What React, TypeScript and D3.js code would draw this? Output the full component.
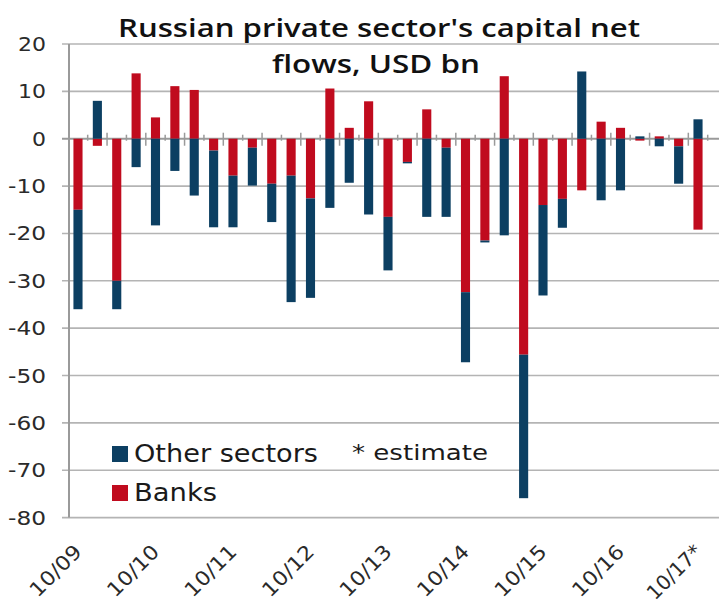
import React from "react";
import * as d3 from "d3";

const categories = [
  "10/09","01/10","04/10","07/10","10/10","01/11","04/11","07/11","10/11",
  "01/12","04/12","07/12","10/12","01/13","04/13","07/13","10/13",
  "01/14","04/14","07/14","10/14","01/15","04/15","07/15","10/15",
  "01/16","04/16","07/16","10/16","01/17","04/17","07/17","10/17*"
];
const banks = [
  -15, -1.5, -30, 13.8, 4.5, 11.1, 10.3, -2.5, -7.8, -1.9, -9.5, -7.8, -12.6,
  10.6, 2.3, 7.9, -16.5, -4.9, 6.2, -1.9, -32.4, -21.5, 13.2, -45.6, -14,
  -12.7, -10.9, 3.6, 2.3, -0.4, 0.5, -1.6, -19.2
];
const otherSectors = [
  -21, 8, -6, -6, -18.3, -6.8, -12, -16.2, -10.9, -8, -8.1, -26.7, -21,
  -14.6, -9.3, -16, -11.3, -0.3, -16.5, -14.6, -14.8, -0.4, -20.4, -30.3, -19.1,
  -6.1, 14.2, -13, -10.9, 0.5, -1.6, -7.9, 4.1
];
const yTicks = [20, 10, 0, -10, -20, -30, -40, -50, -60, -70, -80];
const xTickLabels = ["10/09","10/10","10/11","10/12","10/13","10/14","10/15","10/16","10/17*"];
const seriesKeys = ["banks", "others"];
const seriesNames = { others: "Other sectors", banks: "Banks" };
const colors = { banks: "#c00b1e", others: "#0c3f62" };

export default function App() {
  const W = 719, H = 607;
  const left = 68.3, right = 707.7, plotRight = 719;
  const x = d3.scaleBand<string>().domain(categories).range([left, right]).paddingInner(0.53).paddingOuter(0.265);
  const y = d3.scaleLinear().domain([-80, 20]).range([517.6, 44]);

  const rows = categories.map((c, i) => ({ cat: c, banks: banks[i], others: otherSectors[i] }));
  const stacked = d3.stack<any>().keys(seriesKeys).offset(d3.stackOffsetDiverging)(rows);
  const step = x.step();
  const font = "'DejaVu Sans', sans-serif";

  return (
    <svg width={W} height={H} style={{ position: "absolute", left: 0, top: 0, background: "#fff" }}>
      {/* title */}
      <text x={379} y={37} textAnchor="middle" fontFamily="'Open Sans', sans-serif" fontWeight={600}
        fontSize={25} fill="#111" textLength={522} lengthAdjust="spacingAndGlyphs">
        Russian private sector's capital net
      </text>
      <text x={376} y={73} textAnchor="middle" fontFamily="'Open Sans', sans-serif" fontWeight={600}
        fontSize={25} fill="#111" textLength={208} lengthAdjust="spacingAndGlyphs">
        flows, USD bn
      </text>

      {/* gridlines */}
      {yTicks.map(t => (
        <g key={t}>
          <line x1={62} x2={plotRight} y1={y(t)} y2={y(t)} stroke={t === 0 ? "#9a9a9a" : "#b4b4b4"} strokeWidth={t === 0 ? 2 : 1.6} />
          <text x={46} y={y(t) + 7} textAnchor="end" fontFamily={font} fontSize={20} fill="#2a2a2a"
            textLength={t < 0 ? (Math.abs(t) >= 10 ? 38 : 20) : (t === 0 ? 14 : 28)} lengthAdjust="spacingAndGlyphs">
            {t}
          </text>
        </g>
      ))}
      {/* vertical axis */}
      <line x1={left + 0.7} x2={left + 0.7} y1={y(20)} y2={y(-80)} stroke="#9a9a9a" strokeWidth={2} />

      {/* bars */}
      {stacked.map(s => (
        <g key={s.key} fill={(colors as any)[s.key]}>
          {s.map((d, i) => {
            const y0 = y(Math.max(d[0], d[1]));
            const y1 = y(Math.min(d[0], d[1]));
            return <rect key={i} x={x(categories[i])} width={x.bandwidth()} y={y0} height={Math.max(0, y1 - y0)} />;
          })}
        </g>
      ))}

      {/* category ticks on zero line */}
      {categories.map((c, i) => {
        const bx = (x(c) as number) + x.bandwidth() / 2 + step / 2;
        const long = i % 2 === 1;
        return <line key={c} x1={bx} x2={bx} y1={y(0) - (long ? 6 : 4)} y2={y(0) + (long ? 7 : 2)} stroke="#9a9a9a" strokeWidth={1.5} />;
      })}

      {/* x labels */}
      {xTickLabels.map(lab => {
        const cx = (x(lab) as number) + x.bandwidth() / 2;
        const tx = cx + 5, ty = 553;
        return (
          <text key={lab} x={tx} y={ty} textAnchor="end" fontFamily={font} fontSize={20} fill="#2a2a2a"
            textLength={lab.length > 5 ? 68 : 64} lengthAdjust="spacingAndGlyphs"
            transform={`rotate(-45 ${tx} ${ty})`}>
            {lab}
          </text>
        );
      })}

      {/* legend */}
      <rect x={112} y={446} width={16} height={16} fill={colors.others} />
      <text x={134} y={462} fontFamily={font} fontSize={24} fill="#1a1a1a" textLength={184} lengthAdjust="spacingAndGlyphs">
        {seriesNames.others}
      </text>
      <rect x={112} y={485} width={16} height={16} fill={colors.banks} />
      <text x={134} y={501} fontFamily={font} fontSize={24} fill="#1a1a1a" textLength={83} lengthAdjust="spacingAndGlyphs">
        {seriesNames.banks}
      </text>
      <text x={352} y={460} fontFamily={font} fontSize={22} fill="#1a1a1a" textLength={136} lengthAdjust="spacingAndGlyphs">
        * estimate
      </text>
    </svg>
  );
}
